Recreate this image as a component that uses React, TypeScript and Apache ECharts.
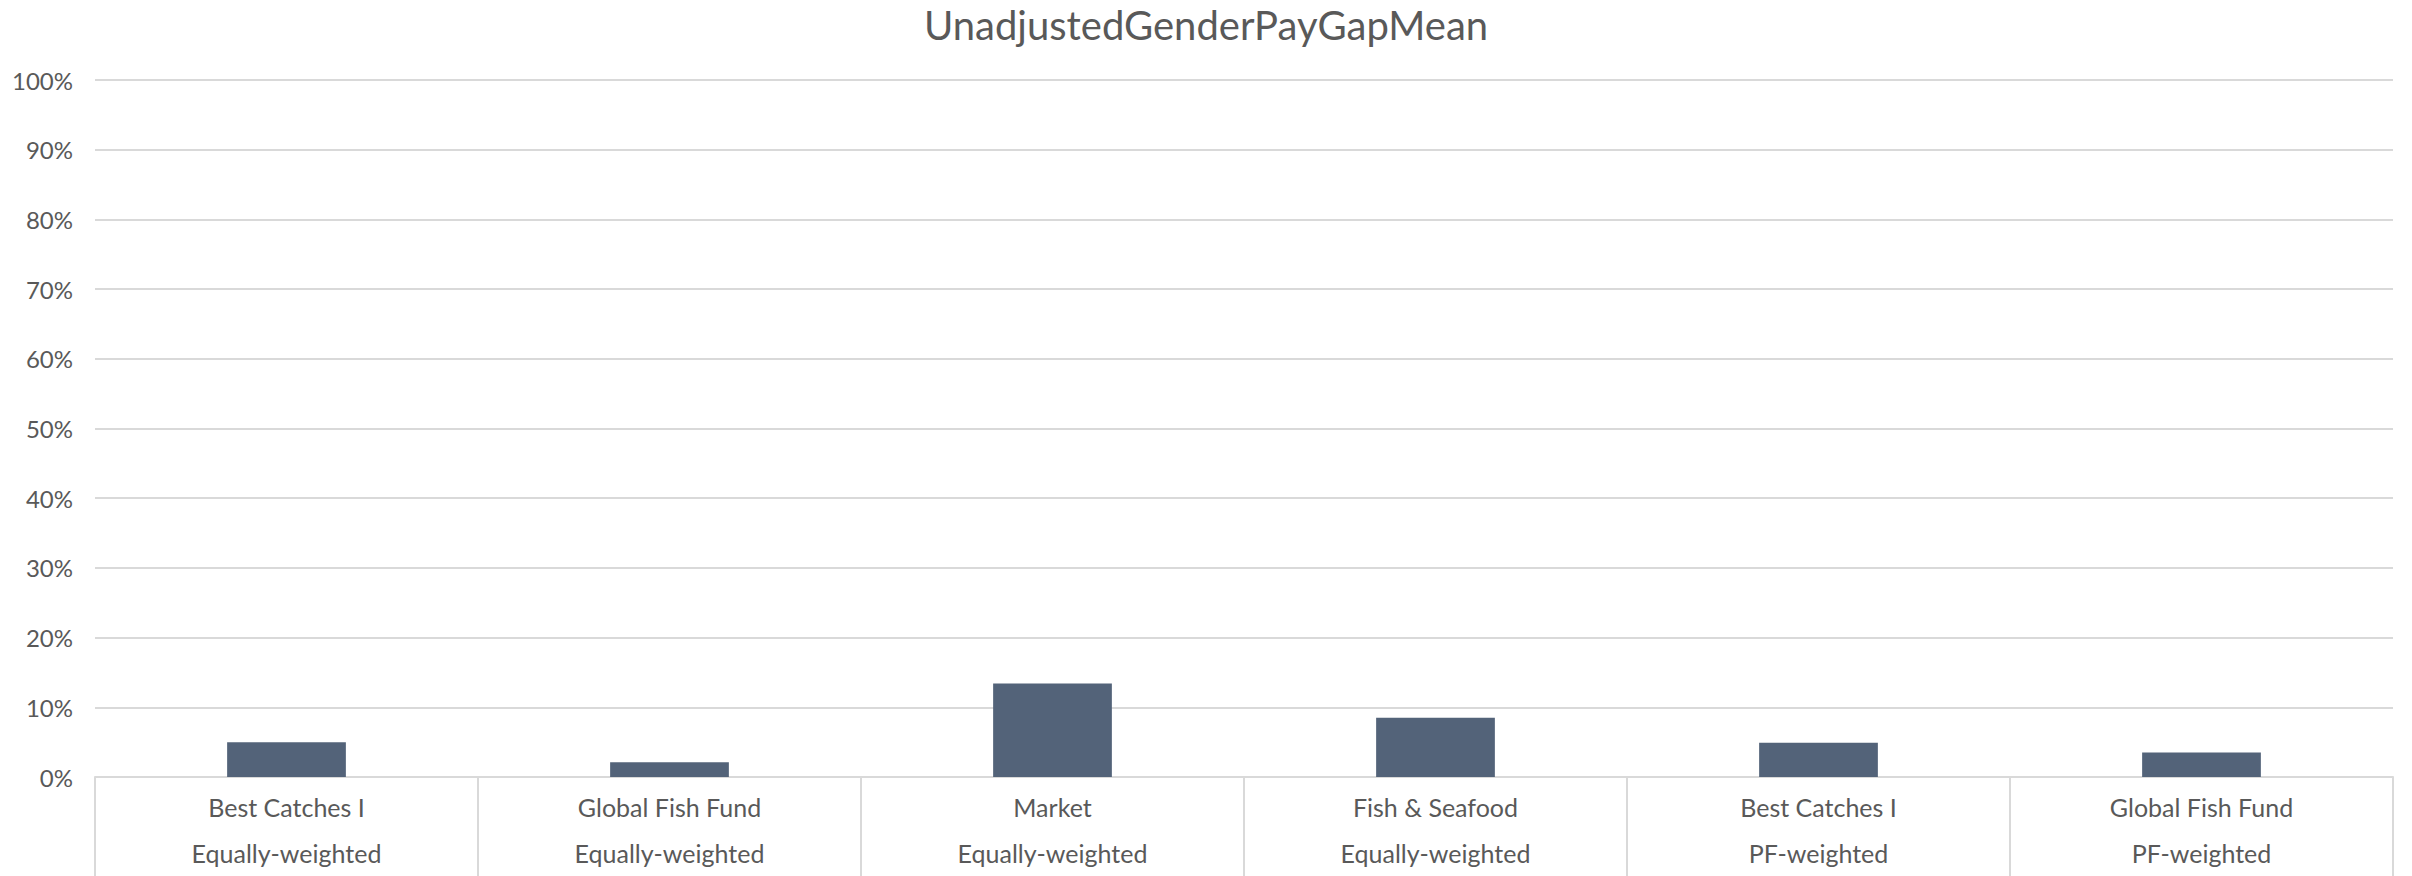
import React, { useEffect, useRef } from "react";
import * as echarts from "echarts";

const TITLE = "UnadjustedGenderPayGapMean";
const FUNDS = ["Best Catches I", "Global Fish Fund", "Market", "Fish & Seafood", "Best Catches I", "Global Fish Fund"];
const WEIGHTINGS = ["Equally-weighted", "Equally-weighted", "Equally-weighted", "Equally-weighted", "PF-weighted", "PF-weighted"];
const VALUES = [5.0, 2.1, 13.4, 8.5, 4.9, 3.5];
const Y_MIN = 0;
const Y_MAX = 100;
const Y_STEP = 10;

const FONT = "Lato, 'Noto Sans', sans-serif";
const TEXT = "#595959";
const GRID = "#d9d9d9";
const BAR = "#536379";

export default function App() {
  const ref = useRef<HTMLDivElement>(null);
  useEffect(() => {
    document.body.style.margin = "0";
    if (!ref.current) return;
    const chart = echarts.init(ref.current, null, { renderer: "svg" });
    const categories = FUNDS.map((f, i) => `${f}\n${WEIGHTINGS[i]}`);
    chart.setOption({
      animation: false,
      backgroundColor: "#ffffff",
      title: {
        text: TITLE,
        left: "center",
        top: 0,
        textStyle: { fontFamily: FONT, fontSize: 40, fontWeight: "normal", color: TEXT },
      },
      grid: { left: 95, right: 19, top: 80, bottom: 98, containLabel: false },
      xAxis: {
        type: "category",
        data: categories,
        boundaryGap: true,
        axisLine: { show: true, lineStyle: { color: GRID, width: 2 } },
        axisTick: { show: true, interval: 0, length: 110, lineStyle: { color: GRID, width: 2 } },
        axisLabel: {
          interval: 0,
          margin: 7,
          fontFamily: FONT,
          fontSize: 25,
          color: TEXT,
          lineHeight: 46,
        },
        splitLine: { show: false },
      },
      yAxis: {
        type: "value",
        min: Y_MIN,
        max: Y_MAX,
        interval: Y_STEP,
        axisLine: { show: false },
        axisTick: { show: false },
        axisLabel: {
          margin: 22,
          fontFamily: FONT,
          fontSize: 24,
          color: TEXT,
          formatter: (v: number) => `${v}%`,
        },
        splitLine: { show: true, lineStyle: { color: GRID, width: 2 } },
      },
      series: [
        {
          type: "bar",
          data: VALUES,
          barWidth: "31%",
          itemStyle: { color: BAR },
        },
      ],
    });
    return () => chart.dispose();
  }, []);
  return <div ref={ref} style={{ width: 2412, height: 876 }} />;
}
